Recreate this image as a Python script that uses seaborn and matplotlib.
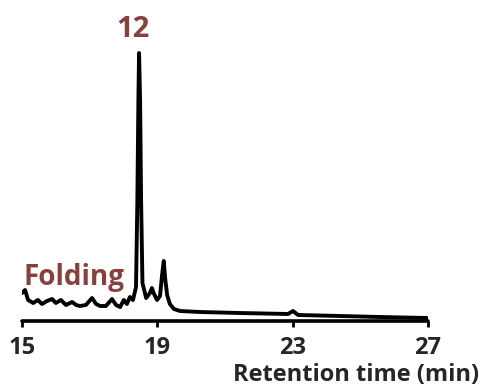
import matplotlib
matplotlib.use("Agg")
import matplotlib.pyplot as plt
import seaborn as sns
import pandas as pd

# Data (retention time in min, detector signal in a.u.)
retention_time = [15.00, 15.09, 15.18, 15.33, 15.47, 15.59, 15.74, 15.89, 16.00, 16.15,
                  16.30, 16.48, 16.60, 16.71, 16.89, 17.07, 17.19, 17.31, 17.48, 17.66,
                  17.78, 17.90, 18.01, 18.10, 18.19, 18.28, 18.37, 18.41, 18.44, 18.46,
                  18.49, 18.52, 18.56, 18.67, 18.78, 18.84, 18.89, 18.99, 19.08, 19.14,
                  19.19, 19.23, 19.29, 19.37, 19.49, 19.67, 20.26, 21.44, 22.86, 23.01,
                  23.16, 24.40, 25.58, 26.97]
signal = [28, 31, 21, 18, 21, 17, 20, 22, 18, 21,
          16, 19, 16, 15, 16, 23, 17, 15, 15, 22,
          16, 14, 21, 17, 24, 21, 34, 121, 221, 268,
          221, 121, 38, 23, 28, 33, 28, 21, 25, 46,
          60, 43, 26, 17, 12, 10, 9, 8, 7, 10,
          6, 5, 4, 3]
x_ticks = [15, 19, 23, 27]
x_label = "Retention time (min)"
peak_label = "12"
sample_label = "Folding"

df = pd.DataFrame({"time": retention_time, "signal": signal})

sns.set_style("white")
plt.rcParams["font.family"] = ["Open Sans", "DejaVu Sans"]

fig = plt.figure(figsize=(4.81, 3.87), dpi=100)
ax = fig.add_axes([22 / 481, 66 / 387, 406 / 481, 321 / 387])

sns.lineplot(data=df, x="time", y="signal", ax=ax, color="black",
             linewidth=2.8, solid_joinstyle="round", solid_capstyle="round")

ax.set_xlim(15, 27)
ax.set_ylim(0, 321)
ax.set_xticks(x_ticks)
ax.set_xticklabels([str(t) for t in x_ticks], fontsize=17, fontweight="bold")
ax.set_yticks([])
ax.set_ylabel("")
ax.set_xlabel(x_label, fontsize=17, fontweight="bold", ha="right")
ax.xaxis.set_label_coords(1.125, -0.13)

for side in ["top", "right", "left"]:
    ax.spines[side].set_visible(False)
ax.spines["bottom"].set_linewidth(2.6)
ax.spines["bottom"].set_color("black")
ax.spines["bottom"].set_capstyle("round")
ax.tick_params(axis="x", direction="out", length=4, width=2, color="black",
               pad=7, bottom=True)

label_color = "#8B3E3E"
ax.text(18.28, 284, peak_label, ha="center", va="baseline", fontsize=21,
        fontweight="bold", color=label_color, clip_on=False)
ax.text(15.03, 36, sample_label, ha="left", va="baseline", fontsize=20,
        fontweight="bold", color=label_color, clip_on=False)

fig.savefig("out.png", dpi=100)
